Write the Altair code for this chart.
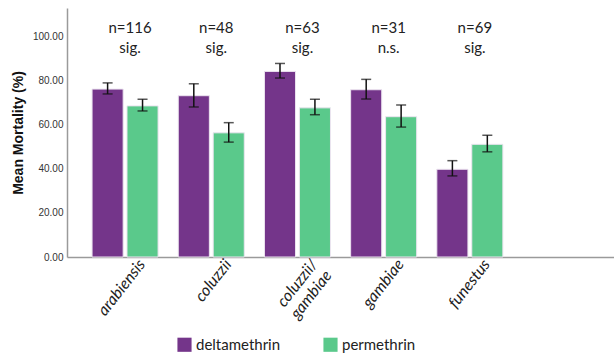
import altair as alt
import pandas as pd

species = ["arabiensis", "coluzzii", "coluzzii/gambiae", "gambiae", "funestus"]
insecticides = ["deltamethrin", "permethrin"]
delta_mean = [76.0, 73.0, 84.0, 75.7, 39.7]
delta_lo = [73.8, 67.9, 81.0, 71.5, 36.7]
delta_hi = [78.8, 78.4, 87.6, 80.4, 43.6]
perm_mean = [68.4, 56.2, 67.5, 63.5, 51.0]
perm_lo = [66.1, 52.0, 64.4, 58.8, 47.6]
perm_hi = [71.4, 60.8, 71.4, 68.8, 55.1]
n_labels = ["n=116", "n=48", "n=63", "n=31", "n=69"]
sig_labels = ["sig.", "sig.", "sig.", "n.s.", "sig."]
colors = ["#74358A", "#5AC98B"]

rows = []
for i, s in enumerate(species):
    rows.append(dict(species=s, insecticide=insecticides[0], mean=delta_mean[i], lo=delta_lo[i], hi=delta_hi[i]))
    rows.append(dict(species=s, insecticide=insecticides[1], mean=perm_mean[i], lo=perm_lo[i], hi=perm_hi[i]))
df = pd.DataFrame(rows)
ann = pd.DataFrame(dict(species=species, n=n_labels, sig=sig_labels))

x_scale = alt.Scale(paddingInner=0.234, paddingOuter=0.79, align=0.184)
x_enc = alt.X(
    "species:N",
    sort=species,
    scale=x_scale,
    axis=alt.Axis(
        title=None,
        labelAngle=-52,
        labelFont="Lato",
        labelFontStyle="italic",
        labelFontSize=16,
        labelColor="#222222",
        labelOffset=17,
        labelPadding=4,
        ticks=False,
        domainColor="#9a9a9a",
        domainWidth=1.5,
        labelExpr="datum.label == 'coluzzii/gambiae' ? ['coluzzii/', 'gambiae'] : datum.label",
    ),
)
xoff = alt.XOffset("insecticide:N", sort=insecticides, scale=alt.Scale(paddingInner=0.11))

y_scale = alt.Scale(domain=[0, 112.7], nice=False)

bars = alt.Chart(df).mark_bar(stroke="#ece4f0", strokeWidth=1).encode(
    x=x_enc,
    xOffset=xoff,
    y=alt.Y(
        "mean:Q",
        scale=y_scale,
        axis=alt.Axis(
            title="Mean Mortality (%)",
            titleFont="Liberation Sans",
            titleFontSize=14,
            titleFontWeight="bold",
            titleColor="#111111",
            titlePadding=7,
            values=[0, 20, 40, 60, 80, 100],
            format=".2f",
            labelFont="Liberation Sans",
            labelFontSize=10,
            labelColor="#333333",
            ticks=False,
            labelPadding=4,
            grid=False,
            domainColor="#9a9a9a",
            domainWidth=1.5,
        ),
    ),
    color=alt.Color(
        "insecticide:N",
        sort=insecticides,
        scale=alt.Scale(domain=insecticides, range=colors),
        legend=alt.Legend(
            title=None,
            orient="none",
            legendX=110,
            legendY=329,
            direction="horizontal",
            columns=2,
            columnPadding=42,
            symbolType="square",
            symbolSize=200,
            symbolStrokeWidth=0,
            symbolOpacity=1,
            labelFont="Lato",
            labelFontSize=15,
            labelColor="#222222",
            labelOffset=4,
        ),
    ),
)

stems = alt.Chart(df).mark_rule(color="#111111", strokeWidth=1.5).encode(
    x=alt.X("species:N", sort=species), xOffset=xoff, y=alt.Y("lo:Q", scale=y_scale), y2="hi:Q"
)
cap_lo = alt.Chart(df).mark_tick(color="#111111", size=10, thickness=1.5, orient="horizontal").encode(
    x=alt.X("species:N", sort=species), xOffset=xoff, y=alt.Y("lo:Q", scale=y_scale)
)
cap_hi = alt.Chart(df).mark_tick(color="#111111", size=10, thickness=1.5, orient="horizontal").encode(
    x=alt.X("species:N", sort=species), xOffset=xoff, y=alt.Y("hi:Q", scale=y_scale)
)

n_text = alt.Chart(ann).mark_text(font="Lato", fontSize=15, color="#222222", dx=5).encode(
    x=alt.X("species:N", sort=species), y=alt.value(20), text="n:N"
)
sig_text = alt.Chart(ann).mark_text(font="Lato", fontSize=15, color="#222222", dx=5).encode(
    x=alt.X("species:N", sort=species), y=alt.value(40), text="sig:N"
)

chart = (
    alt.layer(bars, stems, cap_lo, cap_hi, n_text, sig_text)
    .properties(
        width=547,
        height=249,
        autosize=alt.AutoSizeParams(type="none"),
        padding={"left": 67, "top": 8, "right": 0, "bottom": 99},
        background="white",
    )
    .configure_view(stroke=None)
)

chart.save("out.html", embed_options={"renderer": "svg", "actions": False})
